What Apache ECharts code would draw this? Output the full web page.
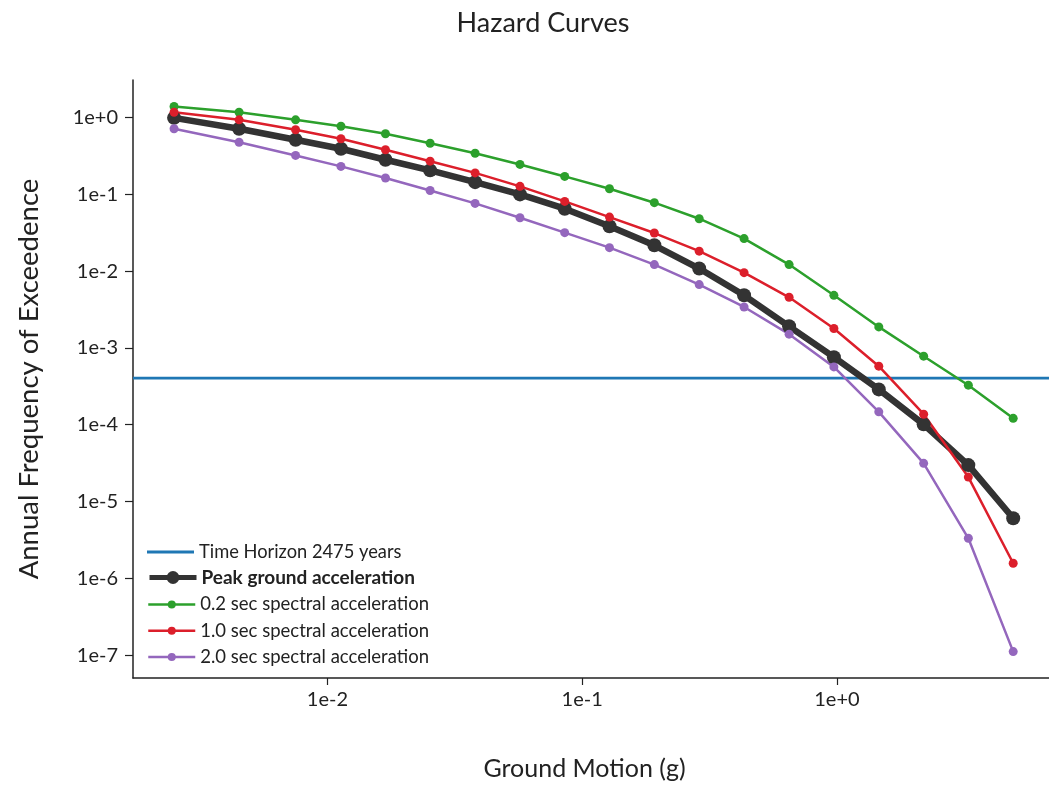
<!DOCTYPE html>
<html>
<head>
<meta charset="utf-8">
<script src="https://cdn.jsdelivr.net/npm/echarts@6/dist/echarts.min.js"></script>
<style>
html,body{margin:0;padding:0;background:#fff;}
#chart{width:1049px;height:787px;}
</style>
</head>
<body>
<div id="chart"></div>
<script>
// Ground motion levels (g)
const groundMotion = [0.0025, 0.0045, 0.0075, 0.0113, 0.0169, 0.0253, 0.038, 0.057, 0.0854, 0.128, 0.192, 0.288, 0.432, 0.649, 0.973, 1.46, 2.19, 3.28, 4.92];
// Annual frequency of exceedance
const pga  = [0.99, 0.713, 0.513, 0.392, 0.282, 0.205, 0.144, 0.0997, 0.065, 0.0383, 0.0217, 0.0108, 0.00484, 0.00191, 7.57e-4, 2.88e-4, 1.01e-4, 2.98e-5, 6.05e-6];
const sa02 = [1.39, 1.17, 0.933, 0.77, 0.614, 0.463, 0.343, 0.245, 0.171, 0.118, 0.0778, 0.0481, 0.0265, 0.01216, 0.00484, 0.001876, 7.8e-4, 3.27e-4, 1.21e-4];
const sa10 = [1.17, 0.933, 0.692, 0.529, 0.380, 0.270, 0.190, 0.127, 0.0809, 0.0505, 0.0313, 0.0182, 0.00955, 0.00456, 0.00179, 5.78e-4, 1.37e-4, 2.08e-5, 1.57e-6];
const sa20 = [0.713, 0.477, 0.321, 0.231, 0.163, 0.112, 0.0762, 0.0496, 0.0317, 0.0202, 0.01216, 0.00667, 0.00341, 0.00151, 5.66e-4, 1.47e-4, 3.14e-5, 3.32e-6, 1.11e-7];
const timeHorizonYears = 2475;
const seriesNames = ['Time Horizon 2475 years', 'Peak ground acceleration', '0.2 sec spectral acceleration', '1.0 sec spectral acceleration', '2.0 sec spectral acceleration'];
const xRange = [0.001725, 6.8];
const yRange = [5.03e-8, 3.08];

const FONT = 'Lato';
function pairs(xs, ys) { return xs.map((x, i) => [x, ys[i]]); }
function expLabel(v) {
  const e = Math.log10(v);
  const r = Math.round(e);
  if (Math.abs(e - r) > 1e-6) return '';
  return '1e' + (r >= 0 ? '+' : '-') + Math.abs(r);
}
const horizonRate = 1 / timeHorizonYears;

const chart = echarts.init(document.getElementById('chart'), null, {renderer: 'canvas'});
const axisCommon = {
  type: 'log',
  logBase: 10,
  axisLine: {show: true, lineStyle: {color: '#222', width: 1.5}},
  axisTick: {show: true, length: 8, lineStyle: {color: '#222', width: 1.2}},
  minorTick: {show: false},
  splitLine: {show: false},
  axisLabel: {formatter: expLabel, fontFamily: FONT, fontSize: 20, color: '#222', showMinLabel: false, showMaxLabel: false}
};

const option = {
  backgroundColor: '#fff',
  animation: false,
  title: {
    text: 'Hazard Curves',
    left: 538, top: 5, textAlign: 'center',
    textStyle: {fontFamily: FONT, fontSize: 27, fontWeight: 'normal', color: '#222'}
  },
  grid: {left: 133, right: 0, top: 80, bottom: 109, containLabel: false},
  xAxis: Object.assign({}, axisCommon, {
    min: xRange[0], max: xRange[1],
    name: 'Ground Motion (g)', nameLocation: 'middle', nameGap: 78,
    nameTextStyle: {fontFamily: FONT, fontSize: 25, color: '#222', padding: [0, 13, 0, 0]},
    axisLabel: Object.assign({}, axisCommon.axisLabel, {margin: 12}),
    axisTick: {show: true, length: 7, lineStyle: {color: '#222', width: 1.2}}
  }),
  yAxis: Object.assign({}, axisCommon, {
    min: yRange[0], max: yRange[1],
    name: 'Annual Frequency of Exceedence', nameLocation: 'middle', nameRotate: 90, nameGap: 90,
    nameTextStyle: {fontFamily: FONT, fontSize: 27.5, color: '#222'},
    axisLabel: Object.assign({}, axisCommon.axisLabel, {margin: 15})
  }),
  legend: [
    {
      data: [seriesNames[0]], orient: 'vertical', left: 147, top: 543, padding: 0,
      icon: 'rect', itemWidth: 47, itemHeight: 3,
      textStyle: {fontFamily: FONT, fontSize: 18.3, color: '#222'}
    },
    {
      data: [{name: seriesNames[1], lineStyle: {width: 5}}], orient: 'vertical', left: 147, top: 568, padding: 0,
      itemWidth: 47, itemHeight: 16,
      textStyle: {fontFamily: FONT, fontSize: 19, fontWeight: 'bold', color: '#222'}
    },
    {
      data: [
        {name: seriesNames[2], lineStyle: {width: 2.5}},
        {name: seriesNames[3], lineStyle: {width: 2.5}},
        {name: seriesNames[4], lineStyle: {width: 2.5}}
      ],
      orient: 'vertical', left: 147, top: 595, padding: 0, itemGap: 7.3,
      itemWidth: 47, itemHeight: 10,
      textStyle: {fontFamily: FONT, fontSize: 18.5, color: '#222'}
    }
  ],
  series: [
    {
      name: seriesNames[0], type: 'line', color: '#1f77b4',
      data: [[xRange[0], horizonRate], [xRange[1], horizonRate]],
      lineStyle: {width: 2.8, color: '#1f77b4'}, symbol: 'none', silent: true
    },
    {
      name: seriesNames[1], type: 'line', data: pairs(groundMotion, pga), color: '#333333',
      lineStyle: {width: 6.5, color: '#333333'}, symbol: 'circle', symbolSize: 14,
      itemStyle: {color: '#333333'}
    },
    {
      name: seriesNames[2], type: 'line', data: pairs(groundMotion, sa02), color: '#2ca02c',
      lineStyle: {width: 2.5, color: '#2ca02c'}, symbol: 'circle', symbolSize: 9,
      itemStyle: {color: '#2ca02c'}
    },
    {
      name: seriesNames[3], type: 'line', data: pairs(groundMotion, sa10), color: '#dc1f2b',
      lineStyle: {width: 2.5, color: '#dc1f2b'}, symbol: 'circle', symbolSize: 9,
      itemStyle: {color: '#dc1f2b'}
    },
    {
      name: seriesNames[4], type: 'line', data: pairs(groundMotion, sa20), color: '#9467bd',
      lineStyle: {width: 2.5, color: '#9467bd'}, symbol: 'circle', symbolSize: 9,
      itemStyle: {color: '#9467bd'}
    }
  ]
};
chart.setOption(option);
</script>
</body>
</html>
